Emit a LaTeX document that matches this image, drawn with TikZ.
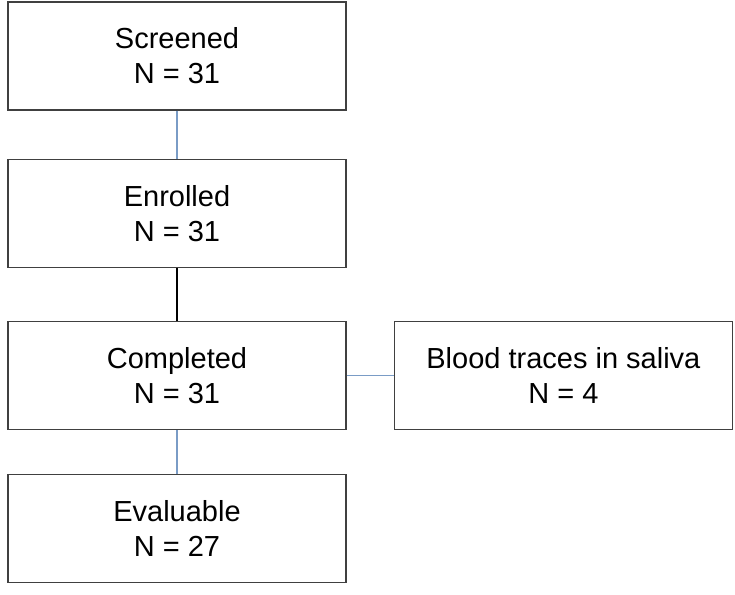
\documentclass[tikz,border=0pt]{standalone}
\usepackage{fontspec}
\setmainfont{Liberation Sans}
\usepackage{xcolor}
\usetikzlibrary{positioning}

\definecolor{boxline}{HTML}{404040}
\definecolor{linkblue}{HTML}{7A9CC6}

\begin{document}
\begin{tikzpicture}[
    x=1pt, y=1pt,
    node distance=48pt,
    box/.style={draw=boxline, line width=1.4pt, rectangle, minimum width=338pt, minimum height=108pt, inner sep=0pt, align=center, font=\fontsize{29}{35}\selectfont},
    link/.style={draw=linkblue, line width=1.2pt}
]
    \useasboundingbox (0,0) rectangle (735,594);
    \node[box] (screened) at (177,538) {Screened\\N = 31};
    \node[box, below=48pt of screened] (enrolled) {Enrolled\\N = 31};
    \node[box, below=53pt of enrolled] (completed) {Completed\\N = 31};
    \node[box, below=43pt of completed] (evaluable) {Evaluable\\N = 27};
    \node[box, right=47pt of completed] (blood) {Blood traces in saliva\\N = 4};

    \draw[link] (screened) -- (enrolled);
    \draw[line width=1.2pt] (enrolled) -- (completed);
    \draw[link] (completed) -- (evaluable);
    \draw[link] (completed) -- (blood);
\end{tikzpicture}
\end{document}
